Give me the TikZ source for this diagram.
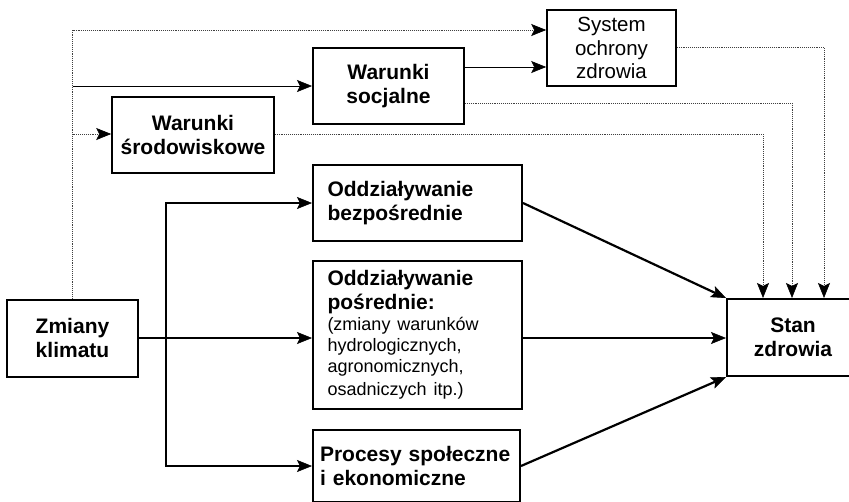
\documentclass[tikz,border=0pt]{standalone}
\usepackage{fontspec}
\setmainfont{Liberation Sans}
\usetikzlibrary{arrows.meta}
\begin{document}
\begin{tikzpicture}[x=1pt,y=-1pt,
  box/.style={draw, line width=2pt, rectangle, inner sep=0pt, align=center,
    font=\bfseries\fontsize{21}{23.5}\selectfont},
  thinbox/.style={box, line width=1.6pt},
  lbox/.style={box, align=left},
  arr/.style={-{Stealth[length=15pt,width=12pt,inset=3pt,black,line width=0.6pt]}},
  mainline/.style={line width=2.2pt, arr},
  solidthin/.style={line width=0.9pt, arr},
  dotline/.style={line width=0.9pt, draw=black!75, densely dotted, arr}
]
\useasboundingbox (0,0) rectangle (849,501);
\clip (0,0) rectangle (849,501);

\node[box, minimum width=131pt, minimum height=77pt] (zm) at (72.5,338) {Zmiany\\klimatu};
\node[thinbox, minimum width=162pt, minimum height=76pt] (sr) at (193,135) {Warunki\\środowiskowe};
\node[box, minimum width=151pt, minimum height=76pt] (soc) at (388.5,86) {Warunki\\socjalne};
\node[thinbox, minimum width=129pt, minimum height=76pt, font=\fontsize{20.5}{23.5}\selectfont] (sys) at (611.5,48) {System\\ochrony\\zdrowia};
\node[lbox, text width=180pt, minimum width=209pt, minimum height=76pt] (be) at (417.5,203) {Oddziaływanie\\bezpośrednie};
\node[lbox, text width=180pt, minimum width=209pt, minimum height=148pt] (po) at (417.5,335)
  {Oddziaływanie\\pośrednie:\par\mdseries\fontsize{18}{21}\selectfont (zmiany warunków\\hydrologicznych,\\agronomicznych,\\osadniczych itp.)};
\node[lbox, text width=193pt, minimum width=207pt, minimum height=72pt] (pr) at (416.5,466) {Procesy społeczne\\i ekonomiczne};
\node[box, minimum width=132pt, minimum height=77pt] (stan) at (793,337.5) {Stan\\zdrowia};

% thin connectors
\draw[dotline] (zm.north) -- (72.5,30) -- (sys.west |- 0,30);
\draw[solidthin] (zm.north |- soc.west) -- (soc.west);
\draw[dotline] (zm.north |- 0,134) -- (sr.west |- 0,134);
\draw[solidthin] (soc.east |- 0,67) -- (sys.west |- 0,67);
\draw[dotline] (sys.east |- 0,47) -| (824,0 |- stan.north);
\draw[dotline] (soc.east |- 0,103) -| (792,0 |- stan.north);
\draw[dotline] (sr.east |- 0,134) -| (763,0 |- stan.north);

% main connectors
\coordinate (br) at (166,338);
\draw[mainline] (zm.east) -- (po.west |- zm.east);
\draw[mainline] (br) |- (be.west);
\draw[mainline] (br) |- (pr.west);
\draw[mainline] (be.east) -- (stan.north west);
\draw[mainline] (po.east |- zm.east) -- (stan.west |- zm.east);
\draw[mainline] (pr.east) -- (stan.south west);
\end{tikzpicture}
\end{document}
